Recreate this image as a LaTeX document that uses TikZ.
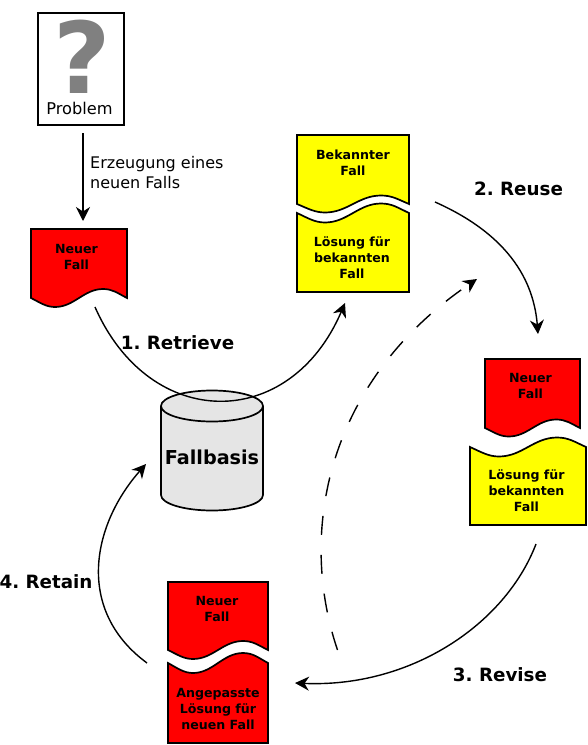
\documentclass[tikz,border=0pt]{standalone}
\usepackage{fontspec}
\setmainfont{DejaVu Sans}
\usetikzlibrary{arrows.meta}
\frenchspacing
\definecolor{caseyellow}{RGB}{255,255,0}

% one wave: from x #1 to x #2 at height #3, swing #4
\newcommand{\wave}[4]{(#1,#3)
  .. controls ({#1+.10*(#2-#1)},{#3+.55*#4}) and ({#1+.16*(#2-#1)},{#3+#4}) .. ({#1+.25*(#2-#1)},{#3+#4})
  .. controls ({#1+.45*(#2-#1)},{#3+#4}) and ({#1+.55*(#2-#1)},{#3-#4}) .. ({#1+.75*(#2-#1)},{#3-#4})
  .. controls ({#1+.85*(#2-#1)},{#3-#4}) and ({#1+.90*(#2-#1)},{#3-.55*#4}) .. (#2,#3)}

\tikzset{
  sheet/.style={draw,line width=1.7pt,line join=miter},
  flow/.style={-{Stealth[length=14pt,width=14pt,inset=4.5pt]},line width=1.4pt},
  sheettext/.style={font=\fontsize{12.6}{16}\selectfont\bfseries,align=center},
  steptext/.style={font=\fontsize{18.3}{22}\selectfont\bfseries}
}

\begin{document}
\begin{tikzpicture}[x=1pt,y=-1pt]
  \useasboundingbox (0,0) rectangle (587,745);

  % problem
  \node (problem) [draw,line width=1.7pt,minimum width=86pt,minimum height=112pt,inner sep=0pt] at (81,69) {};
  \node (mark) [inner sep=0pt,text=black!50,font=\fontsize{99}{99}\selectfont\bfseries] at (82,57) {?};
  \node (problemtext) [inner sep=0pt,font=\fontsize{16.2}{20}\selectfont] at (79.5,108) {Problem};
  \node (create) [inner sep=0pt,anchor=west,align=left,font=\fontsize{16}{20}\selectfont] at (90,173) {Erzeugung eines\\neuen Falls};

  % sheets
  \draw[sheet,fill=red] \wave{31}{127}{298}{9} -- (127,229) -- (31,229) -- cycle;
  \node (newcase) [sheettext] at (76.5,257) {Neuer\\Fall};

  \draw[sheet,fill=caseyellow] \wave{297}{409}{204}{8.5} -- (409,135) -- (297,135) -- cycle;
  \node (known) [sheettext] at (353,162.5) {Bekannter\\Fall};
  \draw[sheet,fill=caseyellow] \wave{297}{409}{213}{9.5} -- (409,292) -- (297,292) -- cycle;
  \node (knownsol) [sheettext] at (352,257.5) {Lösung für\\bekannten\\Fall};

  \draw[sheet,fill=red] \wave{485}{580}{428}{8.5} -- (580,359) -- (485,359) -- cycle;
  \node (newcaseb) [sheettext] at (530.5,386) {Neuer\\Fall};
  \draw[sheet,fill=caseyellow] \wave{470}{586}{447}{9.5} -- (586,525) -- (470,525) -- cycle;
  \node (knownsolb) [sheettext] at (526.5,490.5) {Lösung für\\bekannten\\Fall};

  \draw[sheet,fill=red] \wave{168}{268}{650}{9} -- (268,582) -- (168,582) -- cycle;
  \node (newcasec) [sheettext] at (217,608.5) {Neuer\\Fall};
  \draw[sheet,fill=red] \wave{168}{268}{663}{10} -- (268,743) -- (168,743) -- cycle;
  \node (adapted) [sheettext] at (218,708.5) {Angepasste\\Lösung für\\neuen Fall};

  % case base
  \draw[sheet,fill=black!10] (161,406) -- (161,495) arc[start angle=180,end angle=0,x radius=51,y radius=15.5]
    -- (263,406) arc[start angle=0,end angle=-180,x radius=51,y radius=15.5] -- cycle;
  \draw[sheet] (161,406) arc[start angle=180,end angle=0,x radius=51,y radius=15.5];
  \node (casebase) [font=\fontsize{19.2}{24}\selectfont\bfseries] at (212,457) {Fallbasis};

  % ends of the connectors
  \coordinate (createa) at (83,133);
  \coordinate (createb) at (83,221);
  \coordinate (retrievea) at (95,307);
  \coordinate (retrieveb) at (345,303);
  \coordinate (reusea) at (435,202);
  \coordinate (reuseb) at (538,334);
  \coordinate (revisea) at (536,544);
  \coordinate (reviseb) at (295,683);
  \coordinate (retaina) at (147,663);
  \coordinate (retainb) at (146,464);
  \coordinate (shortcuta) at (337.5,650);
  \coordinate (shortcutb) at (477,279);

  \draw[flow,line width=1.7pt] (createa) -- (createb);
  \draw[flow] (retrievea) .. controls (150,432) and (290,432) .. (retrieveb);
  \draw[flow] (reusea) .. controls (480,222) and (532,258) .. (reuseb);
  \draw[flow] (revisea) .. controls (505,625) and (410,688) .. (reviseb);
  \draw[flow] (retaina) .. controls (75,610) and (92,525) .. (retainb);
  \draw[flow,dash pattern=on 19pt off 20pt] (shortcuta) .. controls (297,530) and (328,380) .. (shortcutb);

  \node (retrieve) [steptext] at (177.5,343) {1. Retrieve};
  \node (reuse) [steptext] at (518.5,189) {2. Reuse};
  \node (revise) [steptext] at (500,675) {3. Revise};
  \node (retain) [steptext] at (46,582) {4. Retain};
\end{tikzpicture}
\end{document}
